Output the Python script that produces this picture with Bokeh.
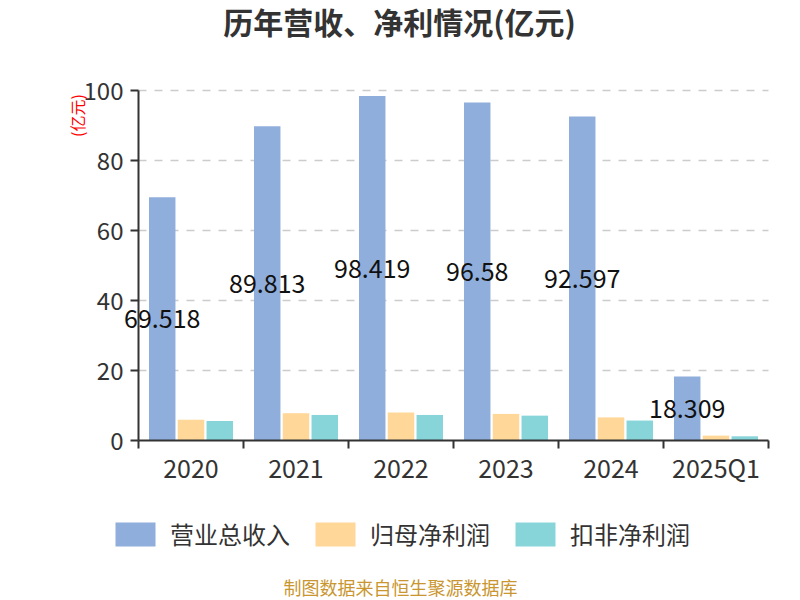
import numpy as np
from bokeh.plotting import figure
from bokeh.models import (ColumnDataSource, LabelSet, Label, Legend, LegendItem,
                          FixedTicker, Range1d)
from bokeh.core.properties import value
from bokeh.transform import dodge
from bokeh.embed import file_html
from bokeh.resources import INLINE

categories = ["2020", "2021", "2022", "2023", "2024", "2025Q1"]
revenue = [69.518, 89.813, 98.419, 96.58, 92.597, 18.309]
net_profit = [5.9, 7.8, 8.0, 7.6, 6.6, 1.4]
deducted_profit = [5.6, 7.3, 7.3, 7.1, 5.7, 1.2]
series_names = ["营业总收入", "归母净利润", "扣非净利润"]
colors = ["#8FAEDB", "#FFD899", "#87D5D9"]
y_ticks = [0, 20, 40, 60, 80, 100]

FONT = "Noto Sans CJK SC"

# canvas / plot-area geometry (pixels)
W, H = 800, 600
PL, PR, PT, PB = 138, 768, 90, 440        # plot-area edges
n = len(categories)
ymax = y_ticks[-1]
px_x = (PR - PL) / n                        # pixels per category
px_y = (PB - PT) / ymax                     # pixels per unit

x_lo, x_hi = -0.5, n - 0.5
xr = Range1d(x_lo - PL / px_x, x_hi + (W - PR) / px_x)
yr = Range1d(-(H - PB) / px_y, ymax + PT / px_y)

idx = np.arange(n)
src = ColumnDataSource(dict(
    x=idx,
    rev=revenue,
    np_=net_profit,
    dp=deducted_profit,
    lab_x=idx - 0.274,
    lab_y=np.array(revenue) / 2.0,
    lab=[f"{v:g}" for v in revenue],
))

p = figure(width=W, height=H, output_backend="svg", toolbar_location=None,
           x_range=xr, y_range=yr, min_border=0, title=None)
p.outline_line_color = None
p.background_fill_color = "white"
p.border_fill_color = "white"
p.xgrid.visible = False
p.ygrid.visible = False

# dashed horizontal grid lines across the plot area
grid_y = y_ticks[1:]
p.segment(x0=[x_lo] * len(grid_y), x1=[x_hi] * len(grid_y), y0=grid_y, y1=grid_y,
          line_color="#CCCCCC", line_width=1.5, line_dash="8 8")

w = 0.252
r1 = p.vbar(x=dodge("x", -0.274), top="rev", width=w, source=src,
            fill_color=colors[0], line_color=None)
r2 = p.vbar(x=dodge("x", 0.0), top="np_", width=w, source=src,
            fill_color=colors[1], line_color=None)
r3 = p.vbar(x=dodge("x", 0.274), top="dp", width=w, source=src,
            fill_color=colors[2], line_color=None)

labels = LabelSet(x="lab_x", y="lab_y", text="lab", source=src,
                  text_align="center", text_baseline="middle",
                  text_font=value(FONT), text_font_size="25px", text_color="#111111")
p.add_layout(labels)

# axes, fixed at the plot-area edges
xa = p.xaxis[0]
xa.fixed_location = 0
xa.bounds = (x_lo, x_hi)
xa.ticker = FixedTicker(ticks=list(idx), minor_ticks=list(np.arange(x_lo, n, 1.0)))
xa.major_label_overrides = {int(i): c for i, c in zip(idx, categories)}
xa.major_tick_out = 0
xa.major_tick_in = 0
xa.minor_tick_out = 8
xa.minor_tick_in = 0
xa.minor_tick_line_color = "#333333"
xa.minor_tick_line_width = 2
xa.axis_line_color = "#333333"
xa.axis_line_width = 2
xa.major_label_text_font = FONT
xa.major_label_text_font_size = "25px"
xa.major_label_text_color = "#333333"
xa.major_label_standoff = 0

ya = p.yaxis[0]
ya.fixed_location = x_lo
ya.bounds = (0, ymax)
ya.ticker = FixedTicker(ticks=y_ticks)
ya.major_tick_out = 8
ya.major_tick_in = 0
ya.minor_tick_out = 0
ya.minor_tick_in = 0
ya.major_tick_line_color = "#333333"
ya.major_tick_line_width = 2
ya.axis_line_color = "#333333"
ya.axis_line_width = 2
ya.major_label_text_font = FONT
ya.major_label_text_font_size = "24px"
ya.major_label_text_color = "#333333"
ya.major_label_standoff = 7

# unit label
p.add_layout(Label(x=76, y=H - 115, x_units="screen", y_units="screen", text="(亿元)",
                   angle=np.pi / 2, text_align="center", text_baseline="middle",
                   text_font=FONT, text_font_size="16px", text_color="#FF0000"))

# title
p.add_layout(Label(x=399, y=H - 20, x_units="screen", y_units="screen",
                   text="历年营收、净利情况(亿元)", text_align="center", text_baseline="middle",
                   text_font=FONT, text_font_size="30px", text_font_style="bold",
                   text_color="#333333"))

# legend
legend = Legend(items=[LegendItem(label=nm, renderers=[r]) for nm, r in zip(series_names, [r1, r2, r3])],
                orientation="horizontal", location=(110, H - 551),
                glyph_width=50, glyph_height=30, label_standoff=10, spacing=20,
                padding=0, margin=0, border_line_color=None, background_fill_alpha=0,
                label_text_font=FONT, label_text_font_size="24px",
                label_text_color="#333333", label_height=30)
p.add_layout(legend, "center")

# footer
p.add_layout(Label(x=400, y=H - 586, x_units="screen", y_units="screen",
                   text="制图数据来自恒生聚源数据库", text_align="center", text_baseline="middle",
                   text_font=FONT, text_font_size="18px", text_line_height=1.0,
                   text_color="#C9962F"))

open("out.html", "w").write(file_html(p, INLINE))
